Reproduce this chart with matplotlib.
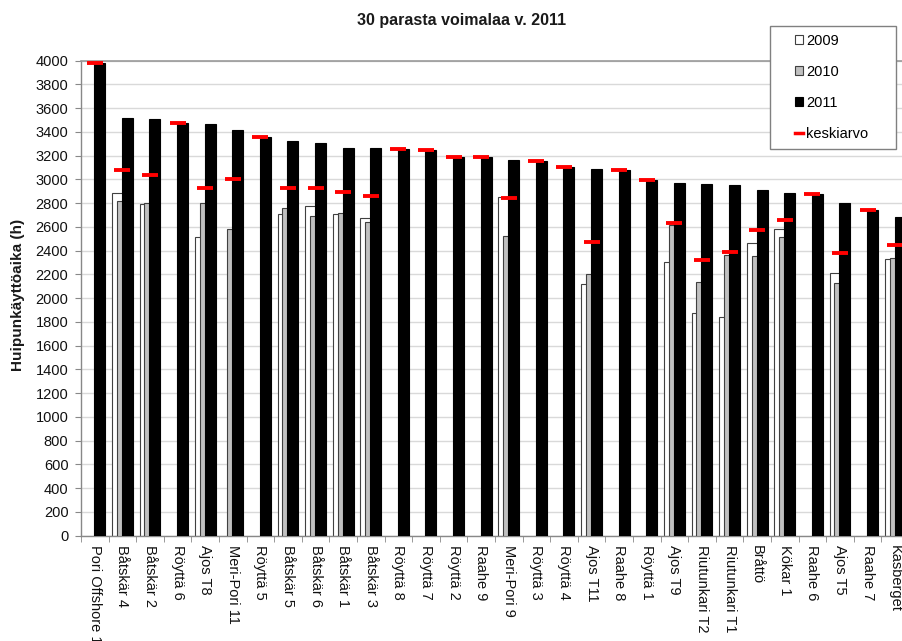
import numpy as np
import matplotlib
matplotlib.use("Agg")
import matplotlib.pyplot as plt
from matplotlib.patches import Rectangle, Patch
from matplotlib.lines import Line2D

plt.rcParams['font.family'] = ['Liberation Sans', 'DejaVu Sans']

nan = np.nan
categories = ["Pori Offshore 1", "Båtskär 4", "Båtskär 2", "Röyttä 6", "Ajos T8",
              "Meri-Pori 11", "Röyttä 5", "Båtskär 5", "Båtskär 6", "Båtskär 1",
              "Båtskär 3", "Röyttä 8", "Röyttä 7", "Röyttä 2", "Raahe 9",
              "Meri-Pori 9", "Röyttä 3", "Röyttä 4", "Ajos T11", "Raahe 8",
              "Röyttä 1", "Ajos T9", "Riutunkari T2", "Riutunkari T1", "Bråttö",
              "Kökar 1", "Raahe 6", "Ajos T5", "Raahe 7", "Kasberget"]

v2009 = [nan, 2888, 2796, nan, 2518, nan, nan, 2709, 2776, 2709,
         2678, nan, nan, nan, nan, 2855, nan, nan, 2117, nan,
         nan, 2307, 1873, 1845, 2468, 2580, nan, 2215, nan, 2328]
v2010 = [nan, 2821, 2800, nan, 2800, 2585, nan, 2757, 2695, 2718,
         2644, nan, nan, nan, nan, 2524, nan, nan, 2204, nan,
         nan, 2619, 2139, 2360, 2355, 2513, nan, 2131, nan, 2339]
v2011 = [3978, 3520, 3509, 3473, 3467, 3416, 3355, 3324, 3307, 3268,
         3268, 3256, 3248, 3192, 3186, 3164, 3158, 3105, 3091, 3082,
         2996, 2966, 2962, 2956, 2911, 2883, 2880, 2804, 2743, 2681]
keskiarvo = [3978, 3076, 3035, 3473, 2928, 3000, 3355, 2930, 2926, 2898,
             2863, 3256, 3248, 3192, 3186, 2848, 3158, 3105, 2471, 3082,
             2996, 2631, 2325, 2387, 2578, 2659, 2880, 2383, 2743, 2449]
yticks = list(range(0, 4001, 200))

W, H = 903, 641
fig = plt.figure(figsize=(W / 100, H / 100), dpi=100)
ax = fig.add_axes([81 / W, 105.3 / H, 828 / W, 475 / H])

x = np.arange(len(categories))
w = 0.40
off = 0.18
ax.bar(x - off, v2009, w, color='white', edgecolor='#404040', linewidth=0.8, zorder=2)
ax.bar(x, v2010, w, color='#c0c0c0', edgecolor='#404040', linewidth=0.8, zorder=3)
ax.bar(x + off, v2011, w, color='black', edgecolor='black', linewidth=0.8, zorder=4)
ax.plot(x, keskiarvo, ls='none', marker='_', color='#ff0000', ms=11.5, mew=2.8, zorder=5)

ax.set_xlim(-0.5, len(categories) - 0.5)
ax.set_ylim(0, 4000)
ax.set_yticks(yticks)
ax.yaxis.grid(True, color='#d9d9d9', linewidth=1)
ax.set_axisbelow(True)

ax.set_xticks(x)
ax.set_xticklabels(categories, rotation=-90, ha='center', va='top', fontsize=10.5, color='#111111')
ax.set_xticks(np.arange(-0.5, len(categories), 1), minor=True)
ax.tick_params(axis='x', which='major', length=0, pad=7)
ax.tick_params(axis='x', which='minor', length=4, color='#888888', direction='out')
ax.tick_params(axis='y', length=4, color='#888888', direction='out', pad=5, labelsize=10.5, labelcolor='#111111')

for s in ['left', 'bottom']:
    ax.spines[s].set_color('#888888')
    ax.spines[s].set_linewidth(1)
ax.spines['top'].set_color('#999999')
ax.spines['top'].set_linewidth(1.2)
ax.spines['right'].set_visible(False)

fig.text(461.7 / W, 1 - 20 / H, "30 parasta voimalaa v. 2011", ha='center', va='center',
         fontsize=11.5, fontweight='bold', color='#1a1a1a')
fig.text(18.3 / W, 1 - 295 / H, "Huipunkäyttöaika (h)", ha='center', va='center',
         rotation=90, fontsize=11, fontweight='bold', color='#1a1a1a')

rect = Rectangle((770 / W, 1 - 149.3 / H), 126 / W, 123.3 / H, transform=fig.transFigure,
                 facecolor='white', edgecolor='#808080', linewidth=1, zorder=10)
fig.add_artist(rect)

handles = [Patch(facecolor='white', edgecolor='#404040', linewidth=0.8),
           Patch(facecolor='#c0c0c0', edgecolor='#404040', linewidth=0.8),
           Patch(facecolor='black', edgecolor='black', linewidth=0.8),
           Line2D([], [], color='#ff0000', lw=2.5)]
labels = ["2009", "2010", "2011", "keskiarvo"]
leg = fig.legend(handles, labels, loc='center', bbox_to_anchor=(832 / W, 1 - 87.5 / H),
                 frameon=False, fontsize=10.5, handlelength=0.55, handleheight=0.55,
                 handletextpad=0.2, labelspacing=1.17, borderpad=0)
leg.set_zorder(11)

fig.savefig("out.png", dpi=100)
